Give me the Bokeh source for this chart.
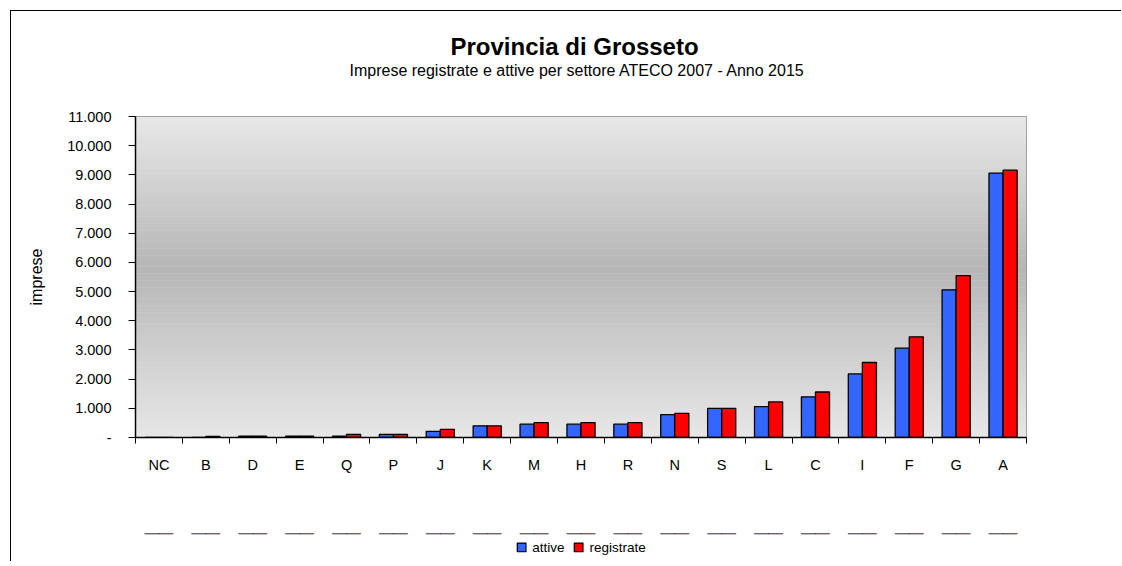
from bokeh.plotting import figure
from bokeh.layouts import column
from bokeh.models import (ColumnDataSource, Range1d, LinearAxis,
                          FixedTicker, Legend, LegendItem, BoxAnnotation, Title)
from bokeh.transform import dodge
from bokeh.embed import file_html
from bokeh.resources import INLINE

# ---- data ----
categories = ["NC", "B", "D", "E", "Q", "P", "J", "K", "M", "H", "R", "N", "S", "L", "C", "I", "F", "G", "A"]
attive = [0, 0, 45, 45, 45, 105, 210, 400, 455, 455, 455, 785, 1000, 1060, 1395, 2180, 3060, 5060, 9060]
registrate = [0, 40, 45, 45, 110, 110, 280, 400, 510, 510, 510, 830, 1000, 1220, 1560, 2570, 3450, 5550, 9160]
y_ticks = [0, 1000, 2000, 3000, 4000, 5000, 6000, 7000, 8000, 9000, 10000, 11000]
series_names = ["attive", "registrate"]
title_text = "Provincia di Grosseto"
subtitle_text = "Imprese registrate e attive per settore ATECO 2007 - Anno 2015"
y_label = "imprese"

FONT = "Liberation Sans"
BLUE = "#3366FF"
RED = "#FF0000"

n = len(categories)
centers = [i + 0.5 for i in range(n)]  # slot centre of each category
src = ColumnDataSource(dict(cat=categories, xc=centers, attive=attive, registrate=registrate))

p = figure(
    x_range=Range1d(0, n),
    y_range=Range1d(0, y_ticks[-1]),
    width=1110, height=522,
    min_border_left=124, min_border_right=95, min_border_top=105, min_border_bottom=96,
    x_axis_location=None,
    output_backend="svg", toolbar_location=None,
)
p.grid.visible = False
p.background_fill_color = "#e8e8e8"
p.border_fill_color = "white"
p.outline_line_color = "#8c8c8c"
p.outline_line_width = 1

# vertical gradient background (light - dark - light)
N = 90
ymax = y_ticks[-1]
center = 0.47
light_top, light_bot, dark = 232, 231, 182
for i in range(N):
    t = (i + 0.5) / N  # fraction from top
    if t < center:
        f = (center - t) / center
        v = dark + (light_top - dark) * f
    else:
        f = (t - center) / (1 - center)
        v = dark + (light_bot - dark) * f
    v = int(round(v))
    col = "#%02x%02x%02x" % (v, v, v)
    top = ymax * (1 - i / N) + 5
    bot = ymax * (1 - (i + 1) / N) - 5
    p.add_layout(BoxAnnotation(bottom=max(bot, 0), top=min(top, ymax), fill_color=col, fill_alpha=1,
                               line_color=None, level="underlay"))

r1 = p.vbar(x=dodge("xc", -0.15), top="attive", width=0.3, source=src,
            fill_color=BLUE, line_color="black", line_width=1.3)
r2 = p.vbar(x=dodge("xc", 0.15), top="registrate", width=0.3, source=src,
            fill_color=RED, line_color="black", line_width=1.3)

# y axis
ya = p.yaxis[0]
ya.ticker = FixedTicker(ticks=y_ticks)
ya.major_label_overrides = {t: ("-" if t == 0 else f"{t:,}".replace(",", ".")) for t in y_ticks}
ya.major_tick_out = 7
ya.major_tick_in = 0
ya.minor_tick_line_color = None
ya.axis_line_color = "black"
ya.axis_line_width = 1.5
ya.major_tick_line_color = "black"
ya.major_label_text_font = FONT
ya.major_label_text_font_size = "14.5px"
ya.major_label_text_color = "black"
ya.major_label_standoff = 17
ya.axis_label = y_label
ya.axis_label_text_font = FONT
ya.axis_label_text_font_size = "16px"
ya.axis_label_text_font_style = "normal"
ya.axis_label_text_color = "black"
ya.axis_label_standoff = 19


def spacer(size):
    """An undrawn axis used only to reserve room in a side panel."""
    mid = n / 2
    return LinearAxis(ticker=FixedTicker(ticks=[mid]), major_label_overrides={mid: ""},
                      major_label_text_font_size="0px", major_tick_out=size, major_tick_in=0,
                      major_label_standoff=0, axis_line_color=None, major_tick_line_color=None,
                      minor_tick_line_color=None)


# x axis: tick marks at category boundaries + labels at slot centres
edges = list(range(n + 1))
tick_axis = LinearAxis(ticker=FixedTicker(ticks=edges),
                       major_label_overrides={e: "" for e in edges},
                       major_label_text_font_size="0px", major_label_standoff=0,
                       major_tick_out=6, major_tick_in=0, minor_tick_line_color=None,
                       axis_line_color="black", axis_line_width=1.5, major_tick_line_color="black")
cat_axis = LinearAxis(ticker=FixedTicker(ticks=centers),
                      major_label_overrides={c: lab for c, lab in zip(centers, categories)},
                      axis_line_color=None, major_tick_line_color=None, minor_tick_line_color=None,
                      major_tick_out=0, major_tick_in=0,
                      major_label_standoff=13, major_label_text_font=FONT,
                      major_label_text_font_size="14.5px", major_label_text_color="black")
p.add_layout(tick_axis, "below")
p.add_layout(cat_axis, "below")

# titles
p.add_layout(spacer(38), "above")
sub = Title(text=subtitle_text, align="left", offset=214, text_font=FONT, text_font_size="16px",
            text_font_style="normal", text_color="black", standoff=0)
main = Title(text=title_text, align="left", offset=315, text_font=FONT, text_font_size="24px",
             text_font_style="bold", text_color="black", standoff=0)
p.add_layout(sub, "above")
p.add_layout(main, "above")

# legend strip below the chart (its own small figure, so the legend is not clipped).
# The key renderers use the same data but a y-range below zero, so their bars stay out of view
# while the legend still draws their swatches.
lf = figure(x_range=Range1d(0, n), y_range=Range1d(-2, -1), width=1110, height=28,
            min_border_left=62, min_border_right=0, min_border_top=0, min_border_bottom=0,
            x_axis_location=None, y_axis_location=None,
            output_backend="svg", toolbar_location=None)
lf.grid.visible = False
lf.outline_line_color = None
lf.background_fill_color = "white"
lf.border_fill_color = "white"
k1 = lf.vbar(x=dodge("xc", -0.15), top="attive", bottom=0, width=0.3, source=src,
             fill_color=BLUE, line_color="black", line_width=1.3)
k2 = lf.vbar(x=dodge("xc", 0.15), top="registrate", bottom=0, width=0.3, source=src,
             fill_color=RED, line_color="black", line_width=1.3)
legend = Legend(items=[LegendItem(label=series_names[0], renderers=[k1]),
                       LegendItem(label=series_names[1], renderers=[k2])],
                location="center", orientation="horizontal", margin=0,
                glyph_width=11, glyph_height=11, label_standoff=6, spacing=8, padding=0,
                border_line_color=None, background_fill_alpha=0,
                label_text_font=FONT, label_text_font_size="13.5px", label_text_color="black")
lf.add_layout(legend, "center")

page = column(p, lf, spacing=0, margin=(10, 0, 0, 10),
              styles={"border-top": "1px solid black", "border-left": "1px solid black"})

open("out.html", "w").write(file_html(page, INLINE))
